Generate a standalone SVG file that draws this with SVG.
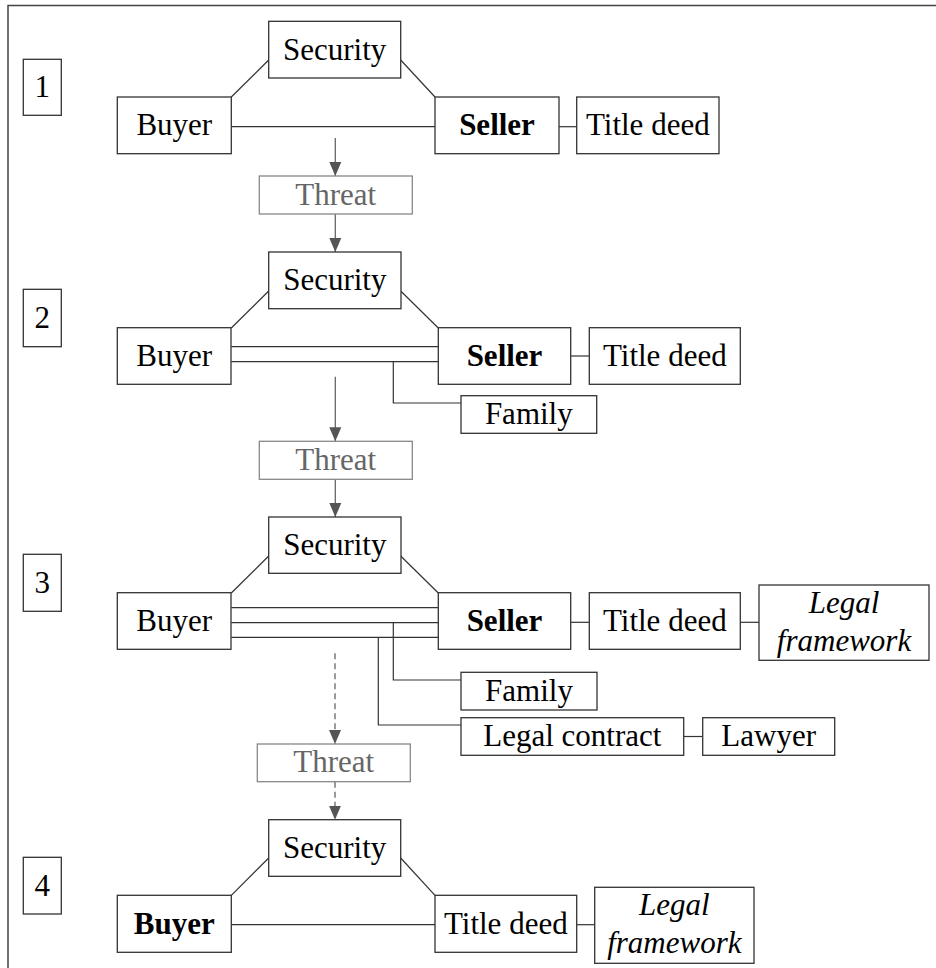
<svg xmlns="http://www.w3.org/2000/svg" width="936" height="968" viewBox="0 0 936 968">
<defs>
<marker id="ah" markerUnits="userSpaceOnUse" markerWidth="14" markerHeight="14" viewBox="0 0 14 12" refX="14" refY="6" orient="auto">
<path d="M0,0 L14,6 L0,12 Z" fill="#555"/>
</marker>
</defs>
<style>
.b{fill:#fff;stroke:#333;stroke-width:1.3}
.tb{fill:#fff;stroke:#888;stroke-width:1.3}
.t{font-family:"Liberation Serif","Times New Roman",serif;font-size:31px;fill:#000;text-anchor:middle}
.bold{font-weight:bold}
.it{font-style:italic}
.tt{fill:#666}
.c{stroke:#333;stroke-width:1.2;fill:none}
.a{stroke:#666;stroke-width:1.3;fill:none}
.d{stroke-dasharray:6,4}
</style>
<rect x="8" y="5.5" width="940" height="980" fill="none" stroke="#444" stroke-width="1.5"/>

<g id="connectors">
<!-- section 1 -->
<line class="c" x1="231.3" y1="97" x2="268.7" y2="60"/>
<line class="c" x1="400.7" y1="60" x2="435" y2="97"/>
<line class="c" x1="231.3" y1="126.7" x2="435" y2="126.7"/>
<line class="c" x1="559" y1="126.7" x2="576.7" y2="126.7"/>
<line class="a" x1="335.3" y1="138" x2="335.3" y2="176" marker-end="url(#ah)"/>
<line class="a" x1="335.3" y1="214" x2="335.3" y2="252" marker-end="url(#ah)"/>
<!-- section 2 -->
<line class="c" x1="231.3" y1="328" x2="268.7" y2="291"/>
<line class="c" x1="400.7" y1="291" x2="438.3" y2="328"/>
<line class="c" x1="231.3" y1="346.7" x2="438.3" y2="346.7"/>
<line class="c" x1="231.3" y1="361.7" x2="438.3" y2="361.7"/>
<polyline class="c" points="393.3,361.7 393.3,403 461,403"/>
<line class="c" x1="570.7" y1="356" x2="589.3" y2="356"/>
<line class="a" x1="335.3" y1="376.7" x2="335.3" y2="441.3" marker-end="url(#ah)"/>
<line class="a" x1="335.3" y1="479.3" x2="335.3" y2="517" marker-end="url(#ah)"/>
<!-- section 3 -->
<line class="c" x1="231.3" y1="593" x2="268.7" y2="556"/>
<line class="c" x1="400.7" y1="556" x2="438.3" y2="593"/>
<line class="c" x1="231.3" y1="607.7" x2="438.3" y2="607.7"/>
<line class="c" x1="231.3" y1="622.7" x2="438.3" y2="622.7"/>
<line class="c" x1="231.3" y1="637.3" x2="438.3" y2="637.3"/>
<polyline class="c" points="393.3,622.7 393.3,680 461,680"/>
<polyline class="c" points="378.3,637.3 378.3,725 461,725"/>
<line class="c" x1="570.7" y1="622.3" x2="589.3" y2="622.3"/>
<line class="c" x1="740.3" y1="622.3" x2="759" y2="622.3"/>
<line class="c" x1="683.7" y1="736.5" x2="702.7" y2="736.5"/>
<line class="a d" x1="335" y1="653.3" x2="335" y2="744" marker-end="url(#ah)"/>
<line class="a d" x1="335" y1="781.7" x2="335" y2="819.7" marker-end="url(#ah)"/>
<!-- section 4 -->
<line class="c" x1="231.3" y1="895.3" x2="268.7" y2="858"/>
<line class="c" x1="400.7" y1="858" x2="435" y2="895.3"/>
<line class="c" x1="231.3" y1="924.7" x2="435" y2="924.7"/>
<line class="c" x1="576.7" y1="924.7" x2="594.7" y2="924.7"/>
</g>

<!-- Section 1 -->
<g id="label1"><rect class="b" x="23.3" y="59.3" width="38" height="56"/><text class="t" x="42.3" y="97.3">1</text></g>
<g id="security1"><rect class="b" x="268.7" y="21.3" width="132" height="56.7"/><text class="t" x="334.7" y="59.7">Security</text></g>
<g id="buyer1"><rect class="b" x="117.3" y="97" width="114" height="56.7"/><text class="t" x="174.3" y="135.4">Buyer</text></g>
<g id="seller1"><rect class="b" x="435" y="97" width="124" height="56.7"/><text class="t bold" x="497" y="135.4">Seller</text></g>
<g id="titledeed1"><rect class="b" x="576.7" y="97" width="142.3" height="56.7"/><text class="t" x="647.8" y="135.4">Title deed</text></g>
<g id="threat1"><rect class="tb" x="259.3" y="176" width="153" height="38"/><text class="t tt" x="335.8" y="204.5">Threat</text></g>

<!-- Section 2 -->
<g id="label2"><rect class="b" x="23.3" y="289.3" width="38" height="57.4"/><text class="t" x="42.3" y="328">2</text></g>
<g id="security2"><rect class="b" x="268.7" y="252" width="132.3" height="56.7"/><text class="t" x="334.8" y="290.4">Security</text></g>
<g id="buyer2"><rect class="b" x="117.3" y="327.7" width="113.7" height="56.6"/><text class="t" x="174.2" y="366">Buyer</text></g>
<g id="seller2"><rect class="b" x="438.3" y="327.7" width="132.4" height="56.6"/><text class="t bold" x="504.5" y="366">Seller</text></g>
<g id="titledeed2"><rect class="b" x="589.3" y="327.7" width="151" height="56.6"/><text class="t" x="664.8" y="366">Title deed</text></g>
<g id="family2"><rect class="b" x="461" y="395.7" width="135.7" height="37.6"/><text class="t" x="528.8" y="424">Family</text></g>
<g id="threat2"><rect class="tb" x="259.3" y="441.3" width="153" height="38"/><text class="t tt" x="335.8" y="469.8">Threat</text></g>

<!-- Section 3 -->
<g id="label3"><rect class="b" x="23.3" y="554.3" width="38" height="57"/><text class="t" x="42.3" y="593">3</text></g>
<g id="security3"><rect class="b" x="268.7" y="517" width="132.3" height="56.3"/><text class="t" x="334.8" y="555.2">Security</text></g>
<g id="buyer3"><rect class="b" x="117.3" y="592.7" width="113.7" height="56.6"/><text class="t" x="174.2" y="631">Buyer</text></g>
<g id="seller3"><rect class="b" x="438.3" y="592.7" width="132.4" height="56.6"/><text class="t bold" x="504.5" y="631">Seller</text></g>
<g id="titledeed3"><rect class="b" x="589.3" y="592.7" width="151" height="56.6"/><text class="t" x="664.8" y="631">Title deed</text></g>
<g id="legalframework3"><rect class="b" x="759" y="585" width="170" height="75.3"/><text class="t it" x="844" y="613.3">Legal</text><text class="t it" x="844" y="650.7">framework</text></g>
<g id="family3"><rect class="b" x="461" y="672.3" width="136" height="37.7"/><text class="t" x="529" y="700.7">Family</text></g>
<g id="legalcontract3"><rect class="b" x="461" y="717.7" width="222.7" height="37.6"/><text class="t" x="572.3" y="746">Legal contract</text></g>
<g id="lawyer3"><rect class="b" x="702.7" y="717.7" width="132" height="37.6"/><text class="t" x="768.7" y="746">Lawyer</text></g>
<g id="threat3"><rect class="tb" x="257.3" y="744" width="153" height="37.7"/><text class="t tt" x="333.8" y="772.4">Threat</text></g>

<!-- Section 4 -->
<g id="label4"><rect class="b" x="23.3" y="857.3" width="38" height="56.7"/><text class="t" x="42.3" y="895.7">4</text></g>
<g id="security4"><rect class="b" x="268.7" y="819.7" width="132" height="56.6"/><text class="t" x="334.7" y="858">Security</text></g>
<g id="buyer4"><rect class="b" x="117.3" y="895.3" width="114" height="57"/><text class="t bold" x="174.3" y="933.8">Buyer</text></g>
<g id="titledeed4"><rect class="b" x="435" y="895.3" width="141.7" height="57"/><text class="t" x="505.8" y="933.8">Title deed</text></g>
<g id="legalframework4"><rect class="b" x="594.7" y="887.3" width="159.3" height="76"/><text class="t it" x="674.3" y="915">Legal</text><text class="t it" x="674.3" y="952.7">framework</text></g>
</svg>
